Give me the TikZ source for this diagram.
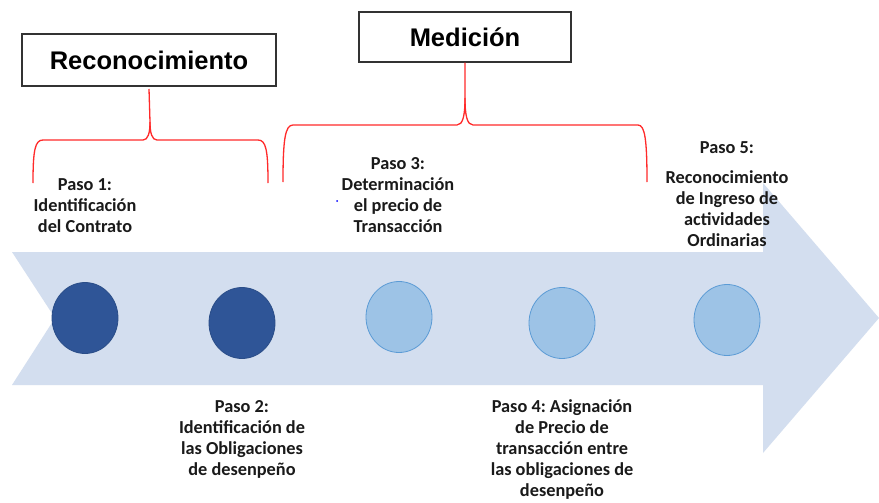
\documentclass[tikz,border=0pt]{standalone}
\usepackage{fontspec}
\setmainfont{Carlito}
\newfontfamily\titlefont{Liberation Sans}
\usetikzlibrary{shapes.geometric}
\frenchspacing
\definecolor{arrowfill}{HTML}{D3DEEF}
\definecolor{darkdot}{HTML}{2F5597}
\definecolor{darkedge}{HTML}{2A4D88}
\definecolor{lightdot}{HTML}{9DC3E6}
\definecolor{lightedge}{HTML}{5B9BD5}
\definecolor{bracered}{HTML}{FF2A2A}
\definecolor{txt}{HTML}{1A1A1A}
\begin{document}
\begin{tikzpicture}[x=1pt,y=-1pt,
  titlebox/.style={draw=black!80, line width=1.2pt, fill=white, text=black,
    font=\titlefont\bfseries\fontsize{25.5}{28}\selectfont, inner sep=0},
  steptext/.style={align=center, text=txt, inner sep=0,
    font=\bfseries\fontsize{18.3}{21}\selectfont},
  darkstep/.style={ellipse, fill=darkdot, draw=darkedge, line width=0.8pt,
    minimum width=66pt, minimum height=71pt, inner sep=0},
  lightstep/.style={ellipse, fill=lightdot, draw=lightedge, line width=0.8pt,
    minimum width=66pt, minimum height=71pt, inner sep=0},
  brace/.style={draw=bracered, line width=1.3pt}]
\useasboundingbox (0,0) rectangle (879,503);
\fill[white] (0,0) rectangle (879,503);

% big chevron arrow
\fill[arrowfill] (12,252) -- (763,252) -- (763,183) -- (879,318) -- (763,453)
  -- (763,385) -- (12,385) -- (55,318) -- cycle;

% title boxes
\node[titlebox, minimum width=254pt, minimum height=52pt] (rec) at (149,60) {Reconocimiento};
\node[titlebox, minimum width=212pt, minimum height=50pt] (med) at (465,37) {Medición};

% braces
\draw[brace] (33,183) .. controls (33,150) and (35,140) .. (43,140) -- (143,140)
  .. controls (148,140) and (150,133) .. (150,122) -- (rec.south |- 0,89);
\draw[brace] (150,122) .. controls (150,133) and (152,140) .. (157,140) -- (258,140)
  .. controls (266,140) and (268,150) .. (268,183);
\draw[brace] (283,182) .. controls (283,140) and (285,125) .. (293,125) -- (457,125)
  .. controls (463,125) and (465,115) .. (465,98) -- (med.south);
\draw[brace] (465,98) .. controls (465,115) and (467,125) .. (473,125) -- (638,125)
  .. controls (645,125) and (647,140) .. (647,182);

% step circles
\node[darkstep] (c1) at (85,318) {};
\node[darkstep] (c2) at (242,323) {};
\node[lightstep] (c3) at (399,317) {};
\node[lightstep] (c4) at (562,323) {};
\node[lightstep] (c5) at (727,320) {};

% step texts
\node[steptext] (t1) at (85,206) {Paso 1:\\Identificación\\del Contrato};
\node[steptext] (t2) at (242,439) {Paso 2:\\Identificación de\\las Obligaciones\\de desenpeño};
\node[steptext] (t3) at (398,195) {Paso 3:\\Determinación\\el precio de\\Transacción};
\node[steptext] (t4) at (562,450) {Paso 4: Asignación\\de Precio de\\transacción entre\\las obligaciones de\\desenpeño};
\node[steptext] (t5a) at (727,148) {Paso 5:};
\node[steptext] (t5) at (727,209) {Reconocimiento\\de Ingreso de\\actividades\\Ordinarias};

% stray dot
\fill[blue] (337,201) circle (1pt);
\end{tikzpicture}
\end{document}
